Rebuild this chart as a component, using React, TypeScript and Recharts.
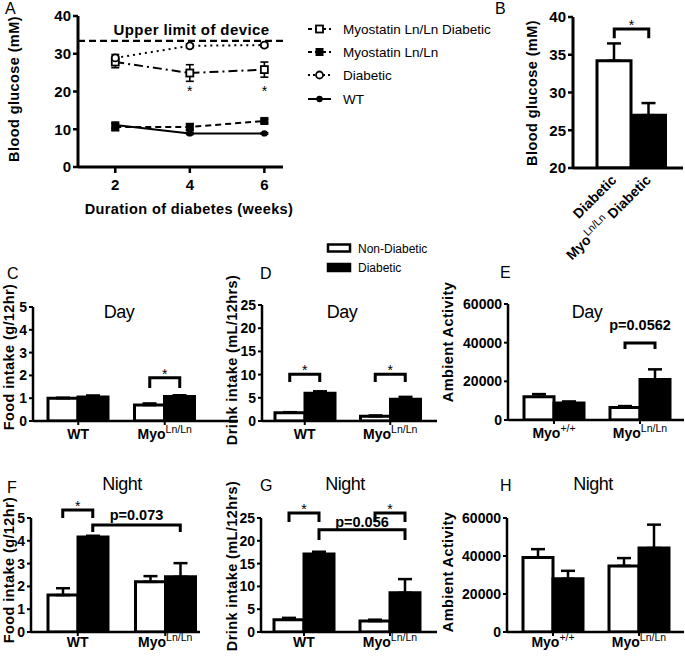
import React from 'react';
import { LineChart, Line, BarChart, Bar, XAxis, YAxis, ErrorBar, ReferenceLine, ReferenceDot, Cell } from 'recharts';

const FONT = '"Liberation Sans", Arial, Helvetica, sans-serif';

// ================= DATA =================
// Panel A – blood glucose over time
const weeks = [2, 4, 6];
const myoLnDiabetic = [27.8, 24.9, 25.8];
const myoLnDiabeticSem = [1.5, 2.2, 2.0];
const myoLn = [10.6, 10.6, 12.2];
const myoLnSem = [1.0, 0.9, 0.5];
const diabetic = [28.9, 32.1, 32.3];
const diabeticSem = [0.9, 0.5, 0.5];
const wt = [11.1, 8.9, 8.9];
const wtSem = [0.8, 0.3, 0.2];
const deviceLimit = 33.4;
const deviceLimitLabel = 'Upper limit of device';
const glucoseTicks = [0, 10, 20, 30, 40];
const weekTicks = [2, 4, 6];
const starWeeks = [4, 6];
const starLevel = 20;
const seriesNames = ['Myostatin Ln/Ln Diabetic', 'Myostatin Ln/Ln', 'Diabetic', 'WT'];
const seriesKeys = ['myoLnDiabetic', 'myoLn', 'diabetic', 'wt'];

// Panel B – blood glucose
const bGroups = ['Diabetic', 'Myo^Ln/Ln Diabetic'];
const bGlucose = [34.2, 27.0];
const bSem = [2.3, 1.6];
const bTicks = [20, 25, 30, 35, 40];
const bBracketTop = 38.4;
const bBracketLeg = 37.2;

// Panels C–H
const genotypes = ['WT', 'Myo^Ln/Ln'];
const activityGenotypes = ['Myo^+/+', 'Myo^Ln/Ln'];
const legendNames = ['Non-Diabetic', 'Diabetic'];
const foodTicks = [0, 1, 2, 3, 4, 5];
const drinkTicks = [0, 5, 10, 15, 20, 25];
const activityTicks = [0, 20000, 40000, 60000];

const dayFoodNon = [1.0, 0.7];
const dayFoodNonSem = [0.02, 0.07];
const dayFoodDia = [1.05, 1.08];
const dayFoodDiaSem = [0.07, 0.05];

const dayDrinkNon = [1.8, 1.0];
const dayDrinkNonSem = [0.1, 0.2];
const dayDrinkDia = [6.0, 4.7];
const dayDrinkDiaSem = [0.4, 0.5];

const dayActNon = [12000, 6500];
const dayActNonSem = [1400, 700];
const dayActDia = [8800, 21000];
const dayActDiaSem = [800, 5200];

const nightFoodNon = [1.62, 2.2];
const nightFoodNonSem = [0.3, 0.25];
const nightFoodDia = [4.17, 2.42];
const nightFoodDiaSem = [0.05, 0.6];

const nightDrinkNon = [2.7, 2.4];
const nightDrinkNonSem = [0.4, 0.3];
const nightDrinkDia = [17.1, 8.6];
const nightDrinkDiaSem = [0.5, 3.0];

const nightActNon = [39200, 34800];
const nightActNonSem = [4400, 4100];
const nightActDia = [28000, 44200];
const nightActDiaSem = [4200, 12300];

type Bracket = { from: string; fromBar: string; to: string; toBar: string; top: number; leg: number; text: string };
const dayFoodBrackets: Bracket[] = [
  { from: 'Myo^Ln/Ln', fromBar: 'non', to: 'Myo^Ln/Ln', toBar: 'dia', top: 1.9, leg: 1.45, text: '*' },
];
const dayDrinkBrackets: Bracket[] = [
  { from: 'WT', fromBar: 'non', to: 'WT', toBar: 'dia', top: 10.1, leg: 8.4, text: '*' },
  { from: 'Myo^Ln/Ln', fromBar: 'non', to: 'Myo^Ln/Ln', toBar: 'dia', top: 10.1, leg: 8.4, text: '*' },
];
const dayActBrackets: Bracket[] = [
  { from: 'Myo^Ln/Ln', fromBar: 'non', to: 'Myo^Ln/Ln', toBar: 'dia', top: 39800, leg: 36700, text: 'p=0.0562' },
];
const nightFoodBrackets: Bracket[] = [
  { from: 'WT', fromBar: 'non', to: 'WT', toBar: 'dia', top: 5.35, leg: 5.0, text: '*' },
  { from: 'WT', fromBar: 'dia', to: 'Myo^Ln/Ln', toBar: 'dia', top: 4.69, leg: 4.39, text: 'p=0.073' },
];
const nightDrinkBrackets: Bracket[] = [
  { from: 'WT', fromBar: 'non', to: 'WT', toBar: 'dia', top: 26.1, leg: 24.1, text: '*' },
  { from: 'Myo^Ln/Ln', fromBar: 'non', to: 'Myo^Ln/Ln', toBar: 'dia', top: 26.1, leg: 24.1, text: '*' },
  { from: 'WT', fromBar: 'dia', to: 'Myo^Ln/Ln', toBar: 'dia', top: 22.4, leg: 20.2, text: 'p=0.056' },
];
const nightActBrackets: Bracket[] = [];

// ================= STYLE / LAYOUT =================
const BAR_W = 30;
const tickFont = { fill: '#000', fontSize: 14, fontWeight: 'bold' as const, fontFamily: FONT };
const tickFontA = { fill: '#000', fontSize: 15, fontWeight: 'bold' as const, fontFamily: FONT };

const seriesStyle: Record<string, { dash?: string; marker: string }> = {
  myoLnDiabetic: { dash: '9 4 2 4', marker: 'openSquare' },
  myoLn: { dash: '6 4', marker: 'square' },
  diabetic: { dash: '2 4', marker: 'openCircle' },
  wt: { dash: undefined, marker: 'circle' },
};

function marker(kind: string, cx: number, cy: number, key: string) {
  const s = 3.5;
  if (kind === 'openSquare')
    return <rect key={key} x={cx - s} y={cy - s} width={2 * s} height={2 * s} fill="#fff" stroke="#000" strokeWidth={1.8} />;
  if (kind === 'square')
    return <rect key={key} x={cx - s} y={cy - s} width={2 * s} height={2 * s} fill="#000" stroke="#000" strokeWidth={1} />;
  if (kind === 'openCircle')
    return <circle key={key} cx={cx} cy={cy} r={3.5} fill="#fff" stroke="#000" strokeWidth={1.8} />;
  return <circle key={key} cx={cx} cy={cy} r={3.2} fill="#000" />;
}

type Box = { x: number; y: number; w: number; h: number };
type Plot = { x1: number; x2: number; y1: number; y2: number };
function marginFor(box: Box, p: Plot, yw: number, xh: number) {
  return { left: p.x1 - box.x - yw, top: p.y1 - box.y, right: box.x + box.w - p.x2, bottom: box.y + box.h - p.y2 - xh };
}

const CatTick = (p: any) => {
  const [base, sup] = String(p.payload.value).split('^');
  return (
    <text x={p.x} y={p.y} dy={11} textAnchor="middle" fontFamily={FONT} fontSize={14} fontWeight="bold" fill="#000">
      {base}
      {sup ? <tspan dy={-6} fontSize={10.5} fontWeight="normal">{sup}</tspan> : null}
    </text>
  );
};

const RotTick = (p: any) => {
  const parts = String(p.payload.value).split('^');
  const base = parts[0];
  let sup = '';
  let rest = '';
  if (parts[1]) {
    const idx = parts[1].indexOf(' ');
    sup = idx >= 0 ? parts[1].slice(0, idx) : parts[1];
    rest = idx >= 0 ? parts[1].slice(idx) : '';
  }
  return (
    <g transform={`translate(${p.x + 3},${p.y + 7})`}>
      <text transform="rotate(-45)" textAnchor="end" fontFamily={FONT} fontSize={14} fontWeight="bold" fill="#000">
        {base}
        {sup ? <tspan dy={-6} fontSize={10.5} fontWeight="normal">{sup}</tspan> : null}
        {rest ? <tspan dy={6}>{rest}</tspan> : null}
      </text>
    </g>
  );
};

function bracketShape(b: Bracket, barW: number, pGap: number) {
  return (p: any) => {
    const off = (s: string) => (s === 'non' ? -barW / 2 : s === 'dia' ? barW / 2 : 0);
    const xa = p.x1 + off(b.fromBar);
    const xb = p.x2 + off(b.toBar);
    const yt = p.y1;
    const yl = p.y2;
    const star = b.text === '*';
    return (
      <g>
        <path d={`M${xa},${yl}V${yt}H${xb}V${yl}`} fill="none" stroke="#000" strokeWidth={3} />
        <text x={(xa + xb) / 2} y={star ? yt + 1 : yt - pGap} textAnchor="middle" fontFamily={FONT}
          fontSize={star ? 14 : 14.5} fontWeight={star ? 'normal' : 'bold'} fill="#000">{b.text}</text>
      </g>
    );
  };
}

const LimitLabel = (p: any) => {
  const vb = p.viewBox || { x: 0, y: 0, width: 0 };
  return (
    <text x={vb.x + vb.width / 2 + 11} y={vb.y - 6} textAnchor="middle" fontFamily={FONT} fontSize={15}
      fontWeight="bold" fill="#000" letterSpacing={0.4}>{deviceLimitLabel}</text>
  );
};

// ================= PANEL A =================
function PanelA() {
  const box = { x: 0, y: 0, w: 300, h: 230 };
  const plot = { x1: 78, x2: 283, y1: 16, y2: 167 };
  const yw = 40, xh = 30;
  const cols: Record<string, number[]> = { myoLnDiabetic, myoLn, diabetic, wt };
  const sems: Record<string, number[]> = { myoLnDiabetic: myoLnDiabeticSem, myoLn: myoLnSem, diabetic: diabeticSem, wt: wtSem };
  const data = weeks.map((w, i) => {
    const row: any = { week: w };
    seriesKeys.forEach(k => { row[k] = cols[k][i]; row[k + 'Sem'] = sems[k][i]; });
    return row;
  });
  return (
    <div style={{ position: 'absolute', left: box.x, top: box.y }}>
      <LineChart width={box.w} height={box.h} data={data} margin={marginFor(box, plot, yw, xh)}>
        <XAxis dataKey="week" type="number" domain={[1, 6.5]} ticks={weekTicks} allowDataOverflow height={xh}
          axisLine={{ stroke: '#000', strokeWidth: 3 }} tickLine={{ stroke: '#000', strokeWidth: 2.5 }} tickSize={6} tickMargin={6}
          tick={tickFontA} interval={0} />
        <YAxis type="number" domain={[0, 40]} ticks={glucoseTicks} allowDataOverflow width={yw} interval={0}
          axisLine={{ stroke: '#000', strokeWidth: 3 }} tickLine={{ stroke: '#000', strokeWidth: 2.5 }} tickSize={5} tickMargin={2}
          tick={tickFontA} />
        <ReferenceLine y={deviceLimit} stroke="#000" strokeWidth={2.2} strokeDasharray="7 4" ifOverflow="visible"
          label={(p: any) => <LimitLabel {...p} />} />
        {seriesKeys.map(k => (
          <Line key={k} dataKey={k} stroke="#000" strokeWidth={2} strokeDasharray={seriesStyle[k].dash}
            isAnimationActive={false}
            dot={(p: any) => marker(seriesStyle[k].marker, p.cx, p.cy, `${k}-${p.index}`)}
            activeDot={false}>
            <ErrorBar dataKey={k + 'Sem'} width={4} stroke="#000" strokeWidth={1.6} direction="y" />
          </Line>
        ))}
        {starWeeks.map(w => (
          <ReferenceDot key={w} x={w} y={starLevel} r={0} fill="none" stroke="none"
            label={{ value: '*', position: 'center', fill: '#000', fontSize: 14, fontFamily: FONT }} />
        ))}
      </LineChart>
    </div>
  );
}

// ================= PANEL B =================
function PanelB() {
  const box = { x: 500, y: 0, w: 185, h: 275 };
  const plot = { x1: 573, x2: 683, y1: 17, y2: 168 };
  const yw = 40, xh = 100;
  const data = bGroups.map((g, i) => ({ group: g, glucose: bGlucose[i], sem: [0, bSem[i]] }));
  const br: Bracket = { from: bGroups[0], fromBar: 'mid', to: bGroups[1], toBar: 'mid', top: bBracketTop, leg: bBracketLeg, text: '*' };
  return (
    <div style={{ position: 'absolute', left: box.x, top: box.y }}>
      <BarChart width={box.w} height={box.h} data={data} margin={marginFor(box, plot, yw, xh)} barCategoryGap={0}>
        <XAxis dataKey="group" height={xh} padding={{ left: 24, right: 17 }} interval={0}
          axisLine={{ stroke: '#000', strokeWidth: 3 }} tickLine={false} tickSize={4} tickMargin={2}
          tick={(p: any) => <RotTick {...p} />} />
        <YAxis type="number" domain={[20, 40]} ticks={bTicks} allowDataOverflow width={yw} interval={0}
          axisLine={{ stroke: '#000', strokeWidth: 3 }} tickLine={{ stroke: '#000', strokeWidth: 2.5 }} tickSize={5} tickMargin={2}
          tick={tickFontA} />
        <Bar dataKey="glucose" barSize={34} stroke="#000" strokeWidth={3} isAnimationActive={false}>
          {data.map((d, i) => <Cell key={i} fill={i === 0 ? '#fff' : '#000'} />)}
          <ErrorBar dataKey="sem" width={7} stroke="#000" strokeWidth={2.5} direction="y" />
        </Bar>
        <ReferenceLine segment={[{ x: br.from, y: br.top }, { x: br.to, y: br.leg }]} ifOverflow="visible"
          shape={bracketShape(br, 34, 4)} />
      </BarChart>
    </div>
  );
}

// ================= GROUPED PANELS =================
type GP = {
  box: Box; plot: Plot; cats: string[]; non: number[]; nonSem: number[]; dia: number[]; diaSem: number[];
  domain: [number, number]; ticks: number[]; brackets: Bracket[]; yw: number; pad: { left: number; right: number };
  tickMargin: number; pGap: number; xh: number;
};
function GroupPanel(g: GP) {
  const data = g.cats.map((c, i) => ({ cat: c, non: g.non[i], nonSem: [0, g.nonSem[i]], dia: g.dia[i], diaSem: [0, g.diaSem[i]] }));
  return (
    <div style={{ position: 'absolute', left: g.box.x, top: g.box.y }}>
      <BarChart width={g.box.w} height={g.box.h} data={data} margin={marginFor(g.box, g.plot, g.yw, g.xh)} barGap={0} barSize={BAR_W}>
        <XAxis dataKey="cat" height={g.xh} padding={g.pad} interval={0}
          axisLine={{ stroke: '#000', strokeWidth: 2.5 }} tickLine={{ stroke: '#000', strokeWidth: 2 }} tickSize={4} tickMargin={g.tickMargin}
          tick={(p: any) => <CatTick {...p} />} />
        <YAxis type="number" domain={g.domain} ticks={g.ticks} allowDataOverflow width={g.yw} interval={0}
          axisLine={{ stroke: '#000', strokeWidth: 2.5 }} tickLine={{ stroke: '#000', strokeWidth: 2 }} tickSize={4} tickMargin={2}
          tick={tickFont} />
        <Bar dataKey="non" fill="#fff" stroke="#000" strokeWidth={3} isAnimationActive={false}>
          <ErrorBar dataKey="nonSem" width={7} stroke="#000" strokeWidth={2.5} direction="y" />
        </Bar>
        <Bar dataKey="dia" fill="#000" stroke="#000" strokeWidth={3} isAnimationActive={false}>
          <ErrorBar dataKey="diaSem" width={7} stroke="#000" strokeWidth={2.5} direction="y" />
        </Bar>
        {g.brackets.map((b, i) => (
          <ReferenceLine key={i} segment={[{ x: b.from, y: b.top }, { x: b.to, y: b.leg }]} ifOverflow="visible"
            shape={bracketShape(b, BAR_W, g.pGap)} />
        ))}
      </BarChart>
    </div>
  );
}

// ================= OVERLAY TEXT =================
const panelLetters = [
  { t: 'A', x: 5, y: 14 }, { t: 'B', x: 495, y: 14 },
  { t: 'C', x: 7, y: 279 }, { t: 'D', x: 260, y: 279 }, { t: 'E', x: 500, y: 278 },
  { t: 'F', x: 7, y: 493 }, { t: 'G', x: 260, y: 491 }, { t: 'H', x: 500, y: 491 },
];
const panelTitles = [
  { t: 'Day', x: 119, y: 318 }, { t: 'Day', x: 342, y: 318 }, { t: 'Day', x: 587, y: 318 },
  { t: 'Night', x: 122, y: 490 }, { t: 'Night', x: 345, y: 490 }, { t: 'Night', x: 593, y: 490 },
];
const yTitles = [
  { t: 'Blood glucose (mM)', x: 14, y: 89 },
  { t: 'Blood glucose (mM)', x: 532, y: 93 },
  { t: 'Food intake (g/12hr)', x: 9, y: 357 },
  { t: 'Drink intake (mL/12hrs)', x: 232, y: 360 },
  { t: 'Ambient Activity', x: 448, y: 342 },
  { t: 'Food intake (g/12hr)', x: 9, y: 570 },
  { t: 'Drink intake (mL/12hrs)', x: 232, y: 566 },
  { t: 'Ambient Activity', x: 448, y: 572 },
];
const legendARows = [29, 52, 75, 99];

function Overlay() {
  return (
    <svg width={685} height={658} style={{ position: 'absolute', left: 0, top: 0, pointerEvents: 'none' }} fontFamily={FONT}>
      {panelLetters.map(l => (
        <text key={l.t} x={l.x} y={l.y} fontSize={16} fill="#000">{l.t}</text>
      ))}
      {panelTitles.map((p, i) => (
        <text key={i} x={p.x} y={p.y} fontSize={18} textAnchor="middle" fill="#000" letterSpacing={-0.5}>{p.t}</text>
      ))}
      {yTitles.map((p, i) => (
        <text key={i} transform={`translate(${p.x},${p.y}) rotate(-90)`} textAnchor="middle" dy="0.35em"
          fontSize={14.5} fontWeight="bold" fill="#000" letterSpacing={0.4}>{p.t}</text>
      ))}
      <text x={189} y={214} textAnchor="middle" fontSize={14.5} fontWeight="bold" fill="#000" letterSpacing={0.4}>Duration of  diabetes (weeks)</text>
      {seriesKeys.map((k, i) => (
        <g key={k}>
          <line x1={308} x2={331} y1={legendARows[i]} y2={legendARows[i]} stroke="#000" strokeWidth={2}
            strokeDasharray={seriesStyle[k].dash ? (k === 'diabetic' ? '2 3' : '4 3') : undefined} />
          {marker(seriesStyle[k].marker, 319.5, legendARows[i], k)}
          <text x={343} y={legendARows[i] + 5} fontSize={13.5} fill="#000">{seriesNames[i]}</text>
        </g>
      ))}
      <rect x={328} y={244.5} width={22} height={7} fill="#fff" stroke="#000" strokeWidth={2.5} />
      <text x={358} y={252.5} fontSize={12} fill="#000">{legendNames[0]}</text>
      <rect x={328} y={264} width={22} height={7} fill="#000" stroke="#000" strokeWidth={2.5} />
      <text x={358} y={272} fontSize={12} fill="#000">{legendNames[1]}</text>
    </svg>
  );
}

export default function App() {
  return (
    <div style={{ position: 'absolute', left: 0, top: 0, width: 685, height: 658, background: '#fff', fontFamily: FONT }}>
      <PanelA />
      <PanelB />
      <GroupPanel box={{ x: 0, y: 290, w: 240, h: 165 }} plot={{ x1: 33, x2: 238, y1: 307, y2: 421 }} cats={genotypes}
        non={dayFoodNon} nonSem={dayFoodNonSem} dia={dayFoodDia} diaSem={dayFoodDiaSem} domain={[0, 5]} ticks={foodTicks}
        brackets={dayFoodBrackets} yw={25} pad={{ left: 2, right: 30 }} tickMargin={3} pGap={5} xh={30} />
      <GroupPanel box={{ x: 235, y: 290, w: 210, h: 165 }} plot={{ x1: 262, x2: 437, y1: 305, y2: 421 }} cats={genotypes}
        non={dayDrinkNon} nonSem={dayDrinkNonSem} dia={dayDrinkDia} diaSem={dayDrinkDiaSem} domain={[0, 25]} ticks={drinkTicks}
        brackets={dayDrinkBrackets} yw={25} pad={{ left: 0, right: 4 }} tickMargin={3} pGap={5} xh={30} />
      <GroupPanel box={{ x: 455, y: 290, w: 230, h: 165 }} plot={{ x1: 508, x2: 684, y1: 304, y2: 420 }} cats={activityGenotypes}
        non={dayActNon} nonSem={dayActNonSem} dia={dayActDia} diaSem={dayActDiaSem} domain={[0, 60000]} ticks={activityTicks}
        brackets={dayActBrackets} yw={48} pad={{ left: 3, right: 1 }} tickMargin={3} pGap={13} xh={30} />
      <GroupPanel box={{ x: 0, y: 495, w: 240, h: 163 }} plot={{ x1: 31, x2: 200, y1: 518, y2: 632 }} cats={genotypes}
        non={nightFoodNon} nonSem={nightFoodNonSem} dia={nightFoodDia} diaSem={nightFoodDiaSem} domain={[0, 5]} ticks={foodTicks}
        brackets={nightFoodBrackets} yw={25} pad={{ left: 3, right: -9 }} tickMargin={0} pGap={5} xh={22} />
      <GroupPanel box={{ x: 235, y: 495, w: 210, h: 163 }} plot={{ x1: 261, x2: 437, y1: 518, y2: 632 }} cats={genotypes}
        non={nightDrinkNon} nonSem={nightDrinkNonSem} dia={nightDrinkDia} diaSem={nightDrinkDiaSem} domain={[0, 25]} ticks={drinkTicks}
        brackets={nightDrinkBrackets} yw={25} pad={{ left: 0, right: 4 }} tickMargin={0} pGap={3} xh={22} />
      <GroupPanel box={{ x: 455, y: 495, w: 230, h: 163 }} plot={{ x1: 507, x2: 684, y1: 518, y2: 632 }} cats={activityGenotypes}
        non={nightActNon} nonSem={nightActNonSem} dia={nightActDia} diaSem={nightActDiaSem} domain={[0, 60000]} ticks={activityTicks}
        brackets={nightActBrackets} yw={48} pad={{ left: 3, right: 2 }} tickMargin={0} pGap={5} xh={22} />
      <Overlay />
    </div>
  );
}
